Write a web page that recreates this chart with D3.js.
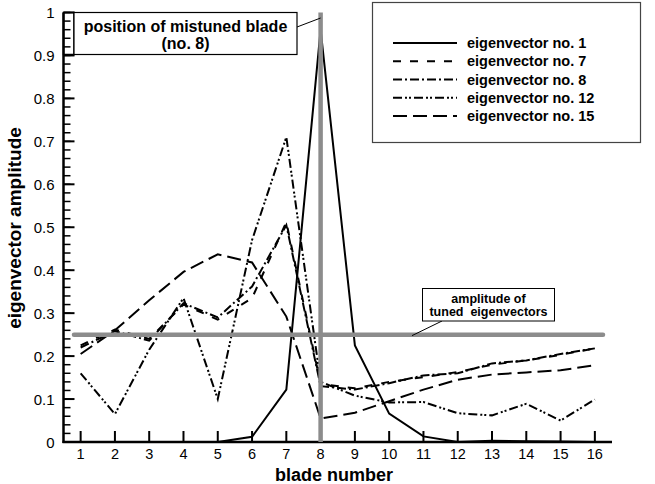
<!DOCTYPE html>
<html>
<head>
<meta charset="utf-8">
<script src="https://cdn.jsdelivr.net/npm/d3@7/dist/d3.min.js"></script>
<style>
  html, body { margin: 0; padding: 0; background: #fff; }
  svg { display: block; font-family: "Liberation Sans", Arial, Helvetica, sans-serif; }
</style>
</head>
<body>
<svg id="chart" width="655" height="484"></svg>
<script>
// Blade indices along the bladed disk
const blades = d3.range(1, 17);

// Eigenvector amplitudes per blade
const eig1  = [0, 0, 0, 0, 0, 0.012, 0.122, 0.96, 0.225, 0.066, 0.013, 0, 0.003, 0.002, 0.001, 0];
const eig7  = [0.225, 0.262, 0.24, 0.32, 0.285, 0.335, 0.512, 0.135, 0.125, 0.14, 0.151, 0.163, 0.18, 0.19, 0.203, 0.218];
const eig8  = [0.22, 0.258, 0.236, 0.323, 0.29, 0.362, 0.505, 0.13, 0.122, 0.137, 0.155, 0.16, 0.183, 0.19, 0.205, 0.218];
const eig12 = [0.16, 0.065, 0.215, 0.335, 0.10, 0.47, 0.71, 0.14, 0.108, 0.092, 0.093, 0.067, 0.062, 0.089, 0.05, 0.099];
const eig15 = [0.205, 0.26, 0.33, 0.396, 0.437, 0.418, 0.292, 0.055, 0.068, 0.095, 0.122, 0.145, 0.157, 0.162, 0.167, 0.179];

const seriesNames = ["eigenvector no. 1", "eigenvector no. 7", "eigenvector no. 8", "eigenvector no. 12", "eigenvector no. 15"];
const seriesValues = [eig1, eig7, eig8, eig12, eig15];
const seriesDash = ["none", "8,9", "9,3,2,3", "9,3,2,2,2,3", "14,6"];

const yTicks = [0, 0.1, 0.2, 0.3, 0.4, 0.5, 0.6, 0.7, 0.8, 0.9, 1];
const yTickLabels = ["0", "0.1", "0.2", "0.3", "0.4", "0.5", "0.6", "0.7", "0.8", "0.9", "1"];

const tunedAmplitude = 0.25;
const mistunedBlade = 8;

const svg = d3.select("#chart");

const x = d3.scaleLinear().domain([0.5, 16.5]).range([63.5, 612]);
const y = d3.scaleLinear().domain([0, 1]).range([442, 12.5]);

// ---- series lines ----
const line = d3.line().x((d, i) => x(blades[i])).y(d => y(d));
const plot = svg.append("g");
seriesValues.forEach((vals, k) => {
  plot.append("path")
    .datum(vals)
    .attr("d", line)
    .attr("fill", "none")
    .attr("stroke", "#000")
    .attr("stroke-width", 2)
    .attr("stroke-linejoin", "miter")
    .attr("stroke-dasharray", seriesDash[k]);
});

// ---- axes ----
const axes = svg.append("g");
// y-axis: major ticks pointing inward, four minor ticks between majors
const yMinor = d3.range(0, 1.0001, 0.02);
axes.selectAll(".yminor").data(yMinor).enter().append("line")
  .attr("x1", x(0.5)).attr("x2", x(0.5) + 7)
  .attr("y1", d => y(d)).attr("y2", d => y(d))
  .attr("stroke", "#000").attr("stroke-width", 1.5);
axes.selectAll(".ymajor").data(yTicks).enter().append("line")
  .attr("x1", x(0.5)).attr("x2", x(0.5) + 11)
  .attr("y1", d => y(d)).attr("y2", d => y(d))
  .attr("stroke", "#000").attr("stroke-width", 2);
axes.selectAll(".ylab").data(yTicks).enter().append("text")
  .attr("x", 54.5).attr("y", d => y(d) + 5.5)
  .attr("text-anchor", "end")
  .attr("font-size", 15)
  .text((d, i) => yTickLabels[i]);

// x-axis: ticks at every blade
axes.selectAll(".xmajor").data(blades).enter().append("line")
  .attr("x1", d => x(d)).attr("x2", d => x(d))
  .attr("y1", y(0)).attr("y2", y(0) - 11)
  .attr("stroke", "#000").attr("stroke-width", 2);
axes.selectAll(".xlab").data(blades).enter().append("text")
  .attr("x", d => x(d)).attr("y", 459)
  .attr("text-anchor", "middle")
  .attr("font-size", 14.5)
  .text(d => d);

axes.append("line")
  .attr("x1", x(0.5)).attr("x2", x(0.5))
  .attr("y1", y(0) + 1).attr("y2", y(1))
  .attr("stroke", "#000").attr("stroke-width", 2.5);
axes.append("line")
  .attr("x1", x(0.5) - 1).attr("x2", x(16.5))
  .attr("y1", y(0)).attr("y2", y(0))
  .attr("stroke", "#000").attr("stroke-width", 2.5);

// axis titles
svg.append("text")
  .attr("x", 334).attr("y", 481)
  .attr("text-anchor", "middle")
  .attr("font-size", 18).attr("font-weight", "bold")
  .text("blade number");
svg.append("text")
  .attr("transform", "translate(21," + 228 + ") rotate(-90)")
  .attr("text-anchor", "middle")
  .attr("font-size", 19).attr("font-weight", "bold")
  .text("eigenvector amplitude");

// ---- reference lines ----
const gray = "#8c8c8c";
svg.append("line")
  .attr("x1", 74).attr("x2", 603)
  .attr("y1", y(tunedAmplitude)).attr("y2", y(tunedAmplitude))
  .attr("stroke", gray).attr("stroke-width", 4.5).attr("stroke-linecap", "round");
svg.append("line")
  .attr("x1", x(mistunedBlade)).attr("x2", x(mistunedBlade))
  .attr("y1", y(0)).attr("y2", y(1))
  .attr("stroke", gray).attr("stroke-width", 4.5);

// ---- annotation: mistuned blade position ----
svg.append("rect")
  .attr("x", x(0.5)).attr("y", 12.5).attr("width", 74 - x(0.5)).attr("height", 42)
  .attr("fill", "none").attr("stroke", "#000").attr("stroke-width", 1.5);
svg.append("rect")
  .attr("x", 74).attr("y", 12.5).attr("width", 223).attr("height", 42)
  .attr("fill", "#fff").attr("stroke", "#000").attr("stroke-width", 1.2);
svg.append("text")
  .attr("x", 185.5).attr("y", 32)
  .attr("text-anchor", "middle").attr("font-size", 16).attr("font-weight", "bold")
  .text("position of mistuned blade");
svg.append("text")
  .attr("x", 185.5).attr("y", 49)
  .attr("text-anchor", "middle").attr("font-size", 16).attr("font-weight", "bold")
  .text("(no. 8)");
svg.append("line")
  .attr("x1", 297).attr("y1", 27).attr("x2", x(mistunedBlade)).attr("y2", 18)
  .attr("stroke", "#000").attr("stroke-width", 1);

// ---- annotation: tuned amplitude ----
svg.append("line")
  .attr("x1", 412).attr("y1", y(tunedAmplitude) + 1).attr("x2", 442).attr("y2", 321)
  .attr("stroke", "#000").attr("stroke-width", 1);
svg.append("rect")
  .attr("x", 422.5).attr("y", 288.5).attr("width", 132).attr("height", 32.5)
  .attr("fill", "#fff").attr("stroke", "#000").attr("stroke-width", 1);
svg.append("text")
  .attr("x", 488.5).attr("y", 303)
  .attr("text-anchor", "middle").attr("font-size", 12.5).attr("font-weight", "bold")
  .text("amplitude of");
svg.append("text")
  .attr("x", 488.5).attr("y", 316)
  .attr("text-anchor", "middle").attr("font-size", 12.5).attr("font-weight", "bold")
  .attr("xml:space", "preserve")
  .style("white-space", "pre")
  .text("tuned  eigenvectors");

// ---- legend ----
const legend = svg.append("g");
legend.append("rect")
  .attr("x", 372.5).attr("y", 2.5).attr("width", 268).attr("height", 140)
  .attr("fill", "#fff").attr("stroke", "#444").attr("stroke-width", 1.2);
const rowY = d3.scalePoint().domain(seriesNames).range([43, 116]);
seriesNames.forEach((name, k) => {
  legend.append("line")
    .attr("x1", 393).attr("x2", 457)
    .attr("y1", rowY(name)).attr("y2", rowY(name))
    .attr("stroke", "#000").attr("stroke-width", 2)
    .attr("stroke-dasharray", seriesDash[k]);
  legend.append("text")
    .attr("x", 467).attr("y", rowY(name) + 5)
    .attr("font-size", 14.5).attr("font-weight", "bold")
    .text(name);
});
</script>
</body>
</html>
